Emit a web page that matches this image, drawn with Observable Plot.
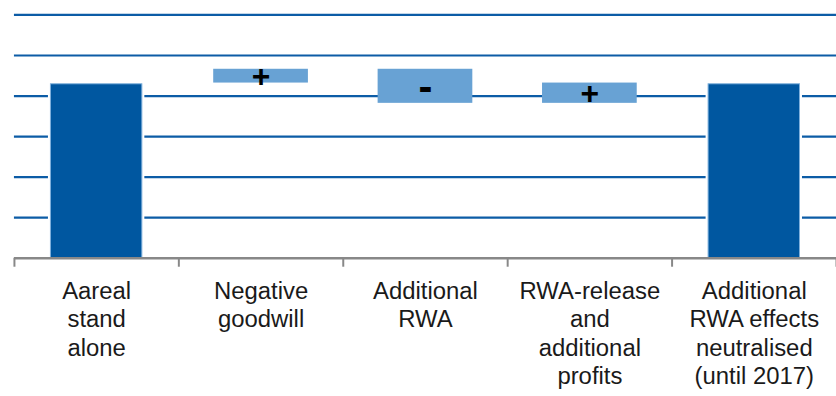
<!DOCTYPE html>
<html>
<head>
<meta charset="utf-8">
<script src="https://cdn.jsdelivr.net/npm/d3@7"></script>
<script src="https://cdn.jsdelivr.net/npm/@observablehq/plot@0.6"></script>
<style>
  html, body { margin: 0; padding: 0; background: #fff; overflow: hidden; }
  #chart svg { display: block; }
</style>
</head>
<body>
<div id="chart"></div>
<script>
// Category labels (x axis)
const categories = [
  "Aareal\nstand\nalone",
  "Negative\ngoodwill",
  "Additional\nRWA",
  "RWA-release\nand\nadditional\nprofits",
  "Additional\nRWA effects\nneutralised\n(until 2017)"
];
// Waterfall segments: start and end value of each bar (unitless scale 0–6)
const barStart = [0, 4.32, 4.66, 3.82, 0];
const barEnd   = [4.29, 4.66, 3.82, 4.32, 4.29];
// Bar kind: total (dark) or change (light)
const barKind  = ["total", "change", "change", "change", "total"];
// Sign label drawn inside change bars
const signs    = ["", "+", "-", "+", ""];
// Gridline values
const gridValues = [1, 2, 3, 4, 5, 6];

const data = categories.map((c, i) => ({
  idx: i + 0.5,
  label: c,
  lo: Math.min(barStart[i], barEnd[i]),
  hi: Math.max(barStart[i], barEnd[i]),
  kind: barKind[i],
  sign: signs[i]
}));
const totals = data.filter(d => d.kind === "total");
const changes = data.filter(d => d.kind === "change");
const boundaries = d3.range(0, categories.length + 1);

const darkHalf = 0.278;
const lightHalf = 0.288;

const chart = Plot.plot({
  width: 840,
  height: 396,
  marginLeft: 14,
  marginRight: 0,
  marginTop: 14.5,
  marginBottom: 137,
  x: {type: "linear", domain: [0, categories.length], axis: null},
  y: {type: "linear", domain: [0, 6], axis: null},
  style: {fontFamily: "'Liberation Sans', Arial, sans-serif", background: "#fff"},
  marks: [
    Plot.ruleY(gridValues, {y: d => d, stroke: "#0c5ca6", strokeWidth: 2.2}),
    // white halo around total bars
    Plot.rect(totals, {x1: d => d.idx - darkHalf, x2: d => d.idx + darkHalf, y1: "lo", y2: "hi",
      fill: "#fff", stroke: "#fff", strokeWidth: 5}),
    Plot.rect(totals, {x1: d => d.idx - darkHalf, x2: d => d.idx + darkHalf, y1: "lo", y2: "hi",
      fill: "#0057a0", stroke: "#7fb0dc", strokeWidth: 1}),
    Plot.rect(changes, {x1: d => d.idx - lightHalf, x2: d => d.idx + lightHalf, y1: "lo", y2: "hi",
      fill: "#68a2d4"}),
    Plot.text(changes.filter(d => d.sign === "+"), {x: "idx", y: d => (d.lo + d.hi) / 2, text: "sign",
      fontSize: 32, fontWeight: "bold", fill: "#000", dy: 1}),
    Plot.text(changes.filter(d => d.sign === "-"), {x: "idx", y: d => (d.lo + d.hi) / 2, text: "sign",
      fontSize: 42, fontWeight: "bold", fill: "#000", dy: 1}),
    Plot.ruleY([0], {y: d => d, stroke: "#888", strokeWidth: 2.5}),
    Plot.ruleX(boundaries, {x: d => d, y1: 0, y2: 0, insetBottom: -9, stroke: "#888", strokeWidth: 2}),
    Plot.text(data, {x: "idx", y: 0, text: "label", lineAnchor: "top", dy: 20,
      fontSize: 24, lineHeight: 1.2, fill: "#1a1a1a"})
  ]
});
document.getElementById("chart").appendChild(chart);
</script>
</body>
</html>
